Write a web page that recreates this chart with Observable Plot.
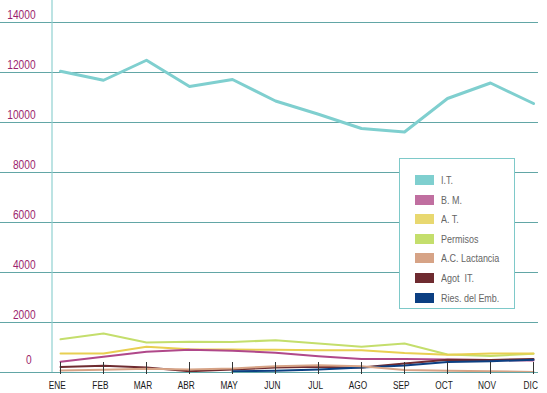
<!DOCTYPE html>
<html>
<head>
<meta charset="utf-8">
<script src="https://cdn.jsdelivr.net/npm/d3@7"></script>
<script src="https://cdn.jsdelivr.net/npm/@observablehq/plot@0.6"></script>
<style>
  html, body { margin: 0; padding: 0; background: #fff; }
  #wrap { position: relative; width: 547px; height: 393px; overflow: hidden; }
  #legend {
    position: absolute; left: 399px; top: 158px; width: 116px; height: 151px;
    background: #fff; border: 1.5px solid #7ec9c9; box-sizing: border-box;
    font-family: "Liberation Sans", sans-serif;
    font-size: 11.5px; color: #666;
  }
  .item { position: absolute; left: 15px; height: 12px; display: flex; align-items: center; }
  .sw { width: 19px; height: 10px; margin-right: 7px; flex: none; }
  .lbl { display: inline-block; transform: scaleX(0.78); transform-origin: left center; white-space: pre; }
</style>
</head>
<body>
<div id="wrap"><div id="chart"></div><div id="legend"></div></div>
<script>
const months = ["ENE","FEB","MAR","ABR","MAY","JUN","JUL","AGO","SEP","OCT","NOV","DIC"];
const yTicks = [0, 2000, 4000, 6000, 8000, 10000, 12000, 14000];
const seriesNames = ["I.T.", "B. M.", "A. T.", "Permisos", "A.C. Lactancia", "Agot  IT.", "Ries. del Emb."];
const seriesColors = ["#7fcfcf", "#b0488a", "#e8cf52", "#c4de6c", "#d6a386", "#6e2b30", "#0c3f82"];
const legendColors = ["#7fcfcf", "#c06fa0", "#e8d870", "#c4de6c", "#d6a386", "#6e2b30", "#0c3f82"];

const it        = [12050, 11690, 12490, 11440, 11720, 10860, 10330, 9760, 9620, 10960, 11580, 10760];
const bm        = [430, 630, 830, 910, 870, 790, 650, 540, 540, 520, 500, 480];
const at        = [760, 760, 1030, 930, 920, 910, 890, 890, 780, 710, 760, 760];
const permisos  = [1330, 1560, 1200, 1230, 1220, 1290, 1160, 1030, 1160, 720, 660, 750];
const lactancia = [80, 110, 150, 120, 160, 250, 290, 250, 100, 70, 50, 20];
const agot      = [220, 270, 200, 50, 120, 200, 230, 200, 360, 510, 500, 540];
const ries      = [null, null, null, null, 50, 70, 120, 200, 280, 420, 450, 510];

const seriesValues = [it, bm, at, permisos, lactancia, agot, ries];
const drawOrder = [0, 3, 2, 1, 5, 6, 4];

const rows = [];
for (const si of drawOrder) {
  seriesValues[si].forEach((v, i) => rows.push({series: seriesNames[si], month: months[i], value: v, order: si}));
}

const font = '"Liberation Sans", sans-serif';

const lineMarks = drawOrder.map(si => Plot.line(rows.filter(r => r.order === si), {
  x: "month", y: "value", stroke: seriesColors[si],
  strokeWidth: si === 0 ? 3 : 2, curve: "linear"
}));

const chart = Plot.plot({
  width: 547, height: 393,
  marginLeft: 0, marginRight: 9, marginTop: 0, marginBottom: 21,
  style: {fontFamily: font, background: "#fff"},
  x: {type: "point", domain: months, range: [55.5, 537], padding: 0},
  y: {domain: [0, 14000], range: [372, 22], axis: null},
  marks: [
    Plot.ruleY(yTicks.slice(1), {stroke: "#62a6a6", strokeWidth: 1}),
    Plot.ruleX([months[0]], {dx: -8.5, stroke: "#8fd0d0", strokeWidth: 1.2}),
    Plot.text(yTicks.slice(1), {y: d => d, text: d => String(d), frameAnchor: "left", dx: 35, dy: -7.5,
      textAnchor: "end", fill: "#9c1f6e", fontSize: 12}),
    Plot.text([0], {y: d => d, text: d => String(d), frameAnchor: "left", dx: 31, dy: -12,
      textAnchor: "end", fill: "#9c1f6e", fontSize: 12}),
    ...lineMarks,
    Plot.ruleY([0], {stroke: "#62a6a6", strokeWidth: 1.2}),
    Plot.ruleX(months, {x: d => d, y1: -80, y2: 400, stroke: "#333", strokeWidth: 1}),
    Plot.axisX({tickSize: 0, tickPadding: 8, fontSize: 11.5, fill: "#1a1a1a", stroke: "#1a1a1a", strokeWidth: 0.25, label: null})
  ]
});
document.getElementById("chart").appendChild(chart);

// condense SVG text horizontally (no narrow font installed)
chart.querySelectorAll("text").forEach(t => {
  const b = t.getBBox();
  const isAxis = t.closest('g[aria-label="x-axis tick label"]') !== null;
  const s = isAxis ? 0.72 : 0.85;
  const a = (t.getAttribute("text-anchor") || (t.parentNode.getAttribute("text-anchor")) || "start");
  const cx = a === "end" ? b.x + b.width : a === "middle" ? b.x + b.width / 2 : b.x;
  const prev = t.getAttribute("transform") || "";
  t.setAttribute("transform", `${prev} translate(${cx},0) scale(${s},1) translate(${-cx},0)`);
});

const legend = document.getElementById("legend");
seriesNames.forEach((name, i) => {
  const d = document.createElement("div");
  d.className = "item";
  d.style.top = (15 + i * 19.6) + "px";
  d.innerHTML = `<span class="sw" style="background:${legendColors[i]}"></span><span class="lbl">${name}</span>`;
  legend.appendChild(d);
});
</script>
</body>
</html>
